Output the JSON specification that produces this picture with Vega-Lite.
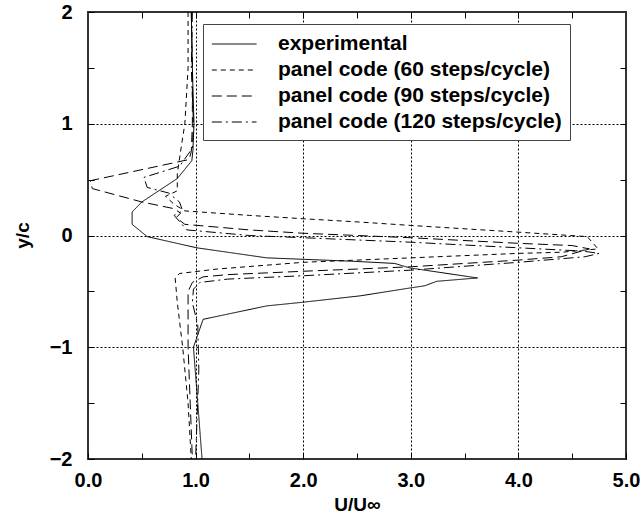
{
  "$schema": "https://vega.github.io/schema/vega-lite/v6.json",
  "width": 538,
  "height": 447,
  "autosize": {"type": "none"},
  "padding": {"left": 88, "top": 12, "right": 16, "bottom": 66},
  "config": {
    "view": {"stroke": "#333", "strokeWidth": 2},
    "font": "Liberation Sans"
  },
  "data": {"values": [
    {"s": "experimental", "i": 1, "u": 0.96, "y": 2.0},
    {"s": "experimental", "i": 2, "u": 0.97, "y": 1.5},
    {"s": "experimental", "i": 3, "u": 0.985, "y": 1.0},
    {"s": "experimental", "i": 4, "u": 0.975, "y": 0.76},
    {"s": "experimental", "i": 5, "u": 0.965, "y": 0.67},
    {"s": "experimental", "i": 6, "u": 0.83, "y": 0.51},
    {"s": "experimental", "i": 7, "u": 0.50, "y": 0.30},
    {"s": "experimental", "i": 8, "u": 0.41, "y": 0.21},
    {"s": "experimental", "i": 9, "u": 0.41, "y": 0.10},
    {"s": "experimental", "i": 10, "u": 0.55, "y": -0.01},
    {"s": "experimental", "i": 11, "u": 1.01, "y": -0.11},
    {"s": "experimental", "i": 12, "u": 1.66, "y": -0.20},
    {"s": "experimental", "i": 13, "u": 2.45, "y": -0.23},
    {"s": "experimental", "i": 14, "u": 2.85, "y": -0.25},
    {"s": "experimental", "i": 15, "u": 2.99, "y": -0.29},
    {"s": "experimental", "i": 16, "u": 3.62, "y": -0.38},
    {"s": "experimental", "i": 17, "u": 3.24, "y": -0.41},
    {"s": "experimental", "i": 18, "u": 3.13, "y": -0.45},
    {"s": "experimental", "i": 19, "u": 2.99, "y": -0.47},
    {"s": "experimental", "i": 20, "u": 2.53, "y": -0.54},
    {"s": "experimental", "i": 21, "u": 1.97, "y": -0.60},
    {"s": "experimental", "i": 22, "u": 1.66, "y": -0.63},
    {"s": "experimental", "i": 23, "u": 1.07, "y": -0.75},
    {"s": "experimental", "i": 24, "u": 0.98, "y": -1.0},
    {"s": "experimental", "i": 25, "u": 1.06, "y": -2.0},

    {"s": "panel code (60 steps/cycle)", "i": 1, "u": 0.93, "y": 2.0},
    {"s": "panel code (60 steps/cycle)", "i": 2, "u": 0.93, "y": 1.5},
    {"s": "panel code (60 steps/cycle)", "i": 3, "u": 0.90, "y": 1.0},
    {"s": "panel code (60 steps/cycle)", "i": 4, "u": 0.86, "y": 0.75},
    {"s": "panel code (60 steps/cycle)", "i": 5, "u": 0.83, "y": 0.55},
    {"s": "panel code (60 steps/cycle)", "i": 6, "u": 0.83, "y": 0.40},
    {"s": "panel code (60 steps/cycle)", "i": 7, "u": 0.72, "y": 0.35},
    {"s": "panel code (60 steps/cycle)", "i": 8, "u": 0.80, "y": 0.28},
    {"s": "panel code (60 steps/cycle)", "i": 9, "u": 0.90, "y": 0.22},
    {"s": "panel code (60 steps/cycle)", "i": 10, "u": 1.5, "y": 0.18},
    {"s": "panel code (60 steps/cycle)", "i": 11, "u": 2.0, "y": 0.15},
    {"s": "panel code (60 steps/cycle)", "i": 12, "u": 2.53, "y": 0.12},
    {"s": "panel code (60 steps/cycle)", "i": 13, "u": 3.0, "y": 0.09},
    {"s": "panel code (60 steps/cycle)", "i": 14, "u": 4.0, "y": 0.03},
    {"s": "panel code (60 steps/cycle)", "i": 15, "u": 4.64, "y": -0.01},
    {"s": "panel code (60 steps/cycle)", "i": 16, "u": 4.74, "y": -0.12},
    {"s": "panel code (60 steps/cycle)", "i": 17, "u": 4.4, "y": -0.15},
    {"s": "panel code (60 steps/cycle)", "i": 18, "u": 4.0, "y": -0.16},
    {"s": "panel code (60 steps/cycle)", "i": 19, "u": 3.0, "y": -0.20},
    {"s": "panel code (60 steps/cycle)", "i": 20, "u": 2.0, "y": -0.24},
    {"s": "panel code (60 steps/cycle)", "i": 21, "u": 1.2, "y": -0.30},
    {"s": "panel code (60 steps/cycle)", "i": 22, "u": 0.85, "y": -0.34},
    {"s": "panel code (60 steps/cycle)", "i": 23, "u": 0.81, "y": -0.38},
    {"s": "panel code (60 steps/cycle)", "i": 24, "u": 0.83, "y": -0.6},
    {"s": "panel code (60 steps/cycle)", "i": 25, "u": 0.88, "y": -1.0},
    {"s": "panel code (60 steps/cycle)", "i": 26, "u": 0.93, "y": -1.5},
    {"s": "panel code (60 steps/cycle)", "i": 27, "u": 0.96, "y": -2.0},

    {"s": "panel code (90 steps/cycle)", "i": 1, "u": 0.96, "y": 2.0},
    {"s": "panel code (90 steps/cycle)", "i": 2, "u": 0.97, "y": 1.5},
    {"s": "panel code (90 steps/cycle)", "i": 3, "u": 0.97, "y": 1.0},
    {"s": "panel code (90 steps/cycle)", "i": 4, "u": 0.96, "y": 0.75},
    {"s": "panel code (90 steps/cycle)", "i": 5, "u": 0.94, "y": 0.68},
    {"s": "panel code (90 steps/cycle)", "i": 6, "u": 0.02, "y": 0.49},
    {"s": "panel code (90 steps/cycle)", "i": 7, "u": 0.04, "y": 0.42},
    {"s": "panel code (90 steps/cycle)", "i": 8, "u": 0.50, "y": 0.30},
    {"s": "panel code (90 steps/cycle)", "i": 9, "u": 0.80, "y": 0.24},
    {"s": "panel code (90 steps/cycle)", "i": 10, "u": 0.86, "y": 0.20},
    {"s": "panel code (90 steps/cycle)", "i": 11, "u": 0.82, "y": 0.16},
    {"s": "panel code (90 steps/cycle)", "i": 12, "u": 0.90, "y": 0.10},
    {"s": "panel code (90 steps/cycle)", "i": 13, "u": 1.5, "y": 0.05},
    {"s": "panel code (90 steps/cycle)", "i": 14, "u": 2.0, "y": 0.02},
    {"s": "panel code (90 steps/cycle)", "i": 15, "u": 3.0, "y": -0.02},
    {"s": "panel code (90 steps/cycle)", "i": 16, "u": 4.0, "y": -0.07},
    {"s": "panel code (90 steps/cycle)", "i": 17, "u": 4.5, "y": -0.09},
    {"s": "panel code (90 steps/cycle)", "i": 18, "u": 4.66, "y": -0.12},
    {"s": "panel code (90 steps/cycle)", "i": 19, "u": 4.4, "y": -0.19},
    {"s": "panel code (90 steps/cycle)", "i": 20, "u": 4.0, "y": -0.22},
    {"s": "panel code (90 steps/cycle)", "i": 21, "u": 3.0, "y": -0.28},
    {"s": "panel code (90 steps/cycle)", "i": 22, "u": 2.0, "y": -0.32},
    {"s": "panel code (90 steps/cycle)", "i": 23, "u": 1.3, "y": -0.35},
    {"s": "panel code (90 steps/cycle)", "i": 24, "u": 1.07, "y": -0.37},
    {"s": "panel code (90 steps/cycle)", "i": 25, "u": 0.97, "y": -0.42},
    {"s": "panel code (90 steps/cycle)", "i": 26, "u": 0.93, "y": -0.5},
    {"s": "panel code (90 steps/cycle)", "i": 27, "u": 0.93, "y": -1.0},
    {"s": "panel code (90 steps/cycle)", "i": 28, "u": 0.95, "y": -1.5},
    {"s": "panel code (90 steps/cycle)", "i": 29, "u": 0.97, "y": -2.0},

    {"s": "panel code (120 steps/cycle)", "i": 1, "u": 0.97, "y": 2.0},
    {"s": "panel code (120 steps/cycle)", "i": 2, "u": 0.96, "y": 1.5},
    {"s": "panel code (120 steps/cycle)", "i": 3, "u": 0.98, "y": 1.0},
    {"s": "panel code (120 steps/cycle)", "i": 4, "u": 0.97, "y": 0.78},
    {"s": "panel code (120 steps/cycle)", "i": 5, "u": 0.85, "y": 0.62},
    {"s": "panel code (120 steps/cycle)", "i": 6, "u": 0.52, "y": 0.52},
    {"s": "panel code (120 steps/cycle)", "i": 7, "u": 0.55, "y": 0.43},
    {"s": "panel code (120 steps/cycle)", "i": 8, "u": 0.75, "y": 0.38},
    {"s": "panel code (120 steps/cycle)", "i": 9, "u": 0.85, "y": 0.30},
    {"s": "panel code (120 steps/cycle)", "i": 10, "u": 0.88, "y": 0.22},
    {"s": "panel code (120 steps/cycle)", "i": 11, "u": 0.80, "y": 0.18},
    {"s": "panel code (120 steps/cycle)", "i": 12, "u": 0.92, "y": 0.05},
    {"s": "panel code (120 steps/cycle)", "i": 13, "u": 1.5, "y": 0.0},
    {"s": "panel code (120 steps/cycle)", "i": 14, "u": 2.0, "y": -0.02},
    {"s": "panel code (120 steps/cycle)", "i": 15, "u": 3.0, "y": -0.06},
    {"s": "panel code (120 steps/cycle)", "i": 16, "u": 4.0, "y": -0.11},
    {"s": "panel code (120 steps/cycle)", "i": 17, "u": 4.6, "y": -0.14},
    {"s": "panel code (120 steps/cycle)", "i": 18, "u": 4.75, "y": -0.16},
    {"s": "panel code (120 steps/cycle)", "i": 19, "u": 4.62, "y": -0.19},
    {"s": "panel code (120 steps/cycle)", "i": 20, "u": 4.0, "y": -0.24},
    {"s": "panel code (120 steps/cycle)", "i": 21, "u": 3.0, "y": -0.31},
    {"s": "panel code (120 steps/cycle)", "i": 22, "u": 2.0, "y": -0.36},
    {"s": "panel code (120 steps/cycle)", "i": 23, "u": 1.3, "y": -0.39},
    {"s": "panel code (120 steps/cycle)", "i": 24, "u": 1.04, "y": -0.42},
    {"s": "panel code (120 steps/cycle)", "i": 25, "u": 0.98, "y": -0.48},
    {"s": "panel code (120 steps/cycle)", "i": 26, "u": 0.97, "y": -0.6},
    {"s": "panel code (120 steps/cycle)", "i": 27, "u": 1.02, "y": -0.8},
    {"s": "panel code (120 steps/cycle)", "i": 28, "u": 1.03, "y": -1.2},
    {"s": "panel code (120 steps/cycle)", "i": 29, "u": 1.0, "y": -2.0}
  ]},
  "layer": [
    {
      "mark": {"type": "line", "color": "black", "strokeWidth": 1},
      "encoding": {
        "x": {
          "field": "u", "type": "quantitative",
          "scale": {"domain": [0, 5], "nice": false, "zero": false},
          "axis": {
            "orient": "bottom",
            "values": [0, 0.5, 1, 1.5, 2, 2.5, 3, 3.5, 4, 4.5, 5],
            "labelExpr": "datum.value % 1 === 0 ? format(datum.value, '.1f') : ''",
            "grid": true,
            "gridColor": "black",
            "gridDash": [2, 2],
            "gridWidth": 1,
            "gridOpacity": {"condition": {"test": "datum.value % 1 === 0 && datum.value > 0 && datum.value < 5", "value": 1}, "value": 0},
            "domain": false,
            "tickSize": -6,
            "tickColor": "black",
            "labelFont": "Liberation Sans",
            "labelFontWeight": "bold",
            "labelFontSize": 20,
            "labelColor": "black",
            "labelPadding": 17,
            "labelBaseline": "top",
            "labelFlush": false,
            "labelOverlap": false,
            "title": "U/U∞",
            "titleFont": "Liberation Sans",
            "titleFontWeight": "bold",
            "titleFontSize": 19,
            "titleColor": "black",
            "titleX": 269,
            "titleY": 51,
            "titleBaseline": "alphabetic"
          }
        },
        "y": {
          "field": "y", "type": "quantitative",
          "scale": {"domain": [-2, 2], "nice": false, "zero": false},
          "axis": {
            "orient": "left",
            "values": [-2, -1.5, -1, -0.5, 0, 0.5, 1, 1.5, 2],
            "labelExpr": "datum.value % 1 === 0 ? format(datum.value, 'd') : ''",
            "grid": true,
            "gridColor": "black",
            "gridDash": [2, 2],
            "gridWidth": 1,
            "gridOpacity": {"condition": {"test": "datum.value % 1 === 0 && datum.value > -2 && datum.value < 2", "value": 1}, "value": 0},
            "domain": false,
            "tickSize": -6,
            "tickColor": "black",
            "labelFont": "Liberation Sans",
            "labelFontWeight": "bold",
            "labelFontSize": 20,
            "labelColor": "black",
            "labelPadding": 22,
            "labelFlush": false,
            "labelOverlap": false,
            "title": "y/c",
            "titleFont": "Liberation Sans",
            "titleFontWeight": "bold",
            "titleFontSize": 19,
            "titleColor": "black",
            "titleX": -60,
            "titleY": 223,
            "titleAngle": 270,
            "titleAlign": "center",
            "titleBaseline": "alphabetic"
          }
        },
        "strokeDash": {
          "field": "s", "type": "nominal",
          "scale": {
            "domain": ["experimental", "panel code (60 steps/cycle)", "panel code (90 steps/cycle)", "panel code (120 steps/cycle)"],
            "range": [[1, 0], [5, 4], [10, 5], [10, 4, 2, 4]]
          },
          "legend": {
            "orient": "none",
            "legendX": 115,
            "legendY": 12,
            "title": null,
            "symbolType": "M-1,0H3",
            "symbolSize": 500,
            "symbolStrokeWidth": 1,
            "symbolStrokeColor": "black",
            "symbolFillColor": "transparent",
            "labelFont": "Liberation Sans",
            "labelFontWeight": "bold",
            "labelFontSize": 21,
            "labelColor": "black",
            "labelOffset": 43,
            "labelLimit": 500,
            "strokeColor": "#444",
            "fillColor": "white",
            "padding": 8,
            "rowPadding": 4
          }
        },
        "order": {"field": "i", "type": "quantitative"}
      }
    },
    {
      "mark": {"type": "line", "strokeOpacity": 0},
      "encoding": {
        "x": {
          "field": "u", "type": "quantitative",
          "axis": {
            "orient": "top",
            "values": [0.5, 1, 1.5, 2, 2.5, 3, 3.5, 4, 4.5],
            "labels": false,
            "grid": false,
            "domain": false,
            "tickSize": -6,
            "tickColor": "black",
            "title": null
          }
        },
        "y": {
          "field": "y", "type": "quantitative",
          "axis": {
            "orient": "right",
            "values": [-1.5, -1, -0.5, 0, 0.5, 1, 1.5],
            "labels": false,
            "grid": false,
            "domain": false,
            "tickSize": -6,
            "tickColor": "black",
            "title": null
          }
        },
        "detail": {"field": "s", "type": "nominal"},
        "order": {"field": "i", "type": "quantitative"}
      }
    }
  ],
  "resolve": {"axis": {"x": "independent", "y": "independent"}}
}
